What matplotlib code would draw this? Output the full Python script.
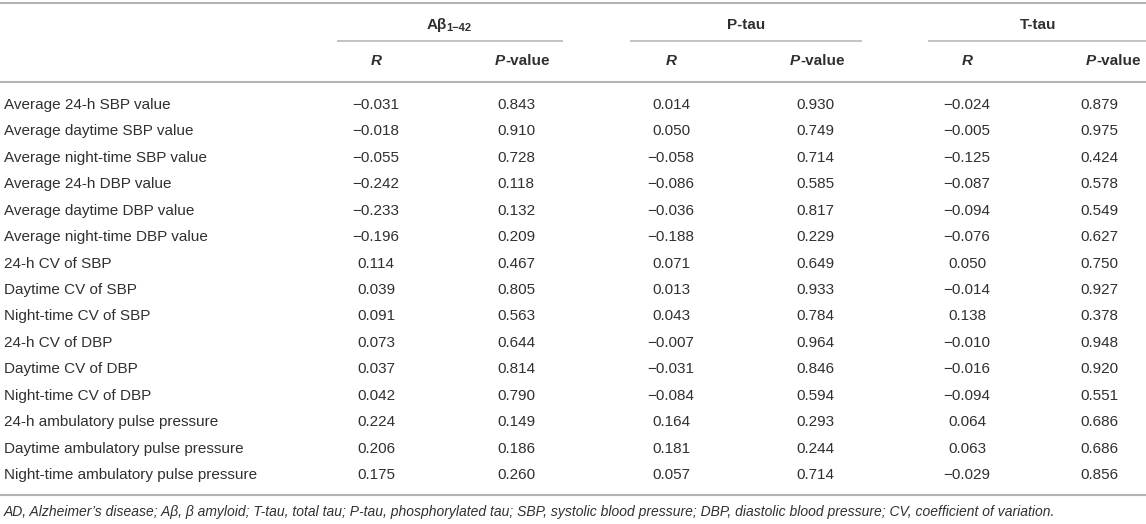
import matplotlib
matplotlib.use("Agg")
import matplotlib.pyplot as plt

plt.rcParams['font.family'] = ['Liberation Sans', 'DejaVu Sans']

# --- table data ---
row_labels = [
    "Average 24-h SBP value",
    "Average daytime SBP value",
    "Average night-time SBP value",
    "Average 24-h DBP value",
    "Average daytime DBP value",
    "Average night-time DBP value",
    "24-h CV of SBP",
    "Daytime CV of SBP",
    "Night-time CV of SBP",
    "24-h CV of DBP",
    "Daytime CV of DBP",
    "Night-time CV of DBP",
    "24-h ambulatory pulse pressure",
    "Daytime ambulatory pulse pressure",
    "Night-time ambulatory pulse pressure",
]
ab_r = [-0.031, -0.018, -0.055, -0.242, -0.233, -0.196, 0.114, 0.039, 0.091, 0.073, 0.037, 0.042, 0.224, 0.206, 0.175]
ab_p = [0.843, 0.910, 0.728, 0.118, 0.132, 0.209, 0.467, 0.805, 0.563, 0.644, 0.814, 0.790, 0.149, 0.186, 0.260]
ptau_r = [0.014, 0.050, -0.058, -0.086, -0.036, -0.188, 0.071, 0.013, 0.043, -0.007, -0.031, -0.084, 0.164, 0.181, 0.057]
ptau_p = [0.930, 0.749, 0.714, 0.585, 0.817, 0.229, 0.649, 0.933, 0.784, 0.964, 0.846, 0.594, 0.293, 0.244, 0.714]
ttau_r = [-0.024, -0.005, -0.125, -0.087, -0.094, -0.076, 0.050, -0.014, 0.138, -0.010, -0.016, -0.094, 0.064, 0.063, -0.029]
ttau_p = [0.879, 0.975, 0.424, 0.578, 0.549, 0.627, 0.750, 0.927, 0.378, 0.948, 0.920, 0.551, 0.686, 0.686, 0.856]

groups = ["P-tau", "T-tau"]  # Aβ1-42 drawn on its own because of the subscript
footnote = ("AD, Alzheimer’s disease; Aβ, β amyloid; T-tau, total tau; P-tau, phosphorylated tau; "
            "SBP, systolic blood pressure; DBP, diastolic blood pressure; CV, coefficient of variation.")

def fmt(v):
    return f"{v:.3f}".replace("-", "\u2212")

W, H = 1146, 524
fig = plt.figure(figsize=(W / 100, H / 100), dpi=100)
ax = fig.add_axes([0, 0, 1, 1])
ax.set_xlim(0, W)
ax.set_ylim(H, 0)
ax.axis('off')

txt = '#303030'
line_c = '#b3b3b3'
fs = 11

# column centres in pixels
r_x = [376, 671, 967]
p_x = [522, 817, 1113]
p_val_x = [516, 815, 1099]
grp_x = [450, 746, 1038]
spans = [(337, 563), (630, 862), (928, 1146)]

# rules
for yy in (3, 82, 495):
    ax.axhline(yy, color=line_c, lw=1.5)
for a, b in spans:
    ax.plot([a, b], [41, 41], color=line_c, lw=1.1, solid_capstyle='butt')

# group headers
ax.text(447, 25, "Aβ", ha='right', va='center', fontsize=fs, fontweight='bold', color=txt)
ax.text(446, 28, "1\u221242", ha='left', va='center', fontsize=8, fontweight='bold', color=txt)
for g, x in zip(groups, grp_x[1:]):
    ax.text(x, 25, g, ha='center', va='center', fontsize=fs, fontweight='bold', color=txt)

# sub headers
for xr, xp in zip(r_x, p_x):
    ax.text(xr, 61, "R", ha='center', va='center', fontsize=fs, fontweight='bold',
            style='italic', color=txt)
    ax.annotate("P", (xp, 61), ha='right', va='center', fontsize=fs, fontweight='bold',
                style='italic', color=txt, xytext=(-12, 0), textcoords='offset points')
    ax.annotate("-value", (xp, 61), ha='left', va='center', fontsize=fs, fontweight='bold',
                color=txt, xytext=(-12, 0), textcoords='offset points')

# body
cols = [ab_r, ab_p, ptau_r, ptau_p, ttau_r, ttau_p]
col_x = [r_x[0], p_val_x[0], r_x[1], p_val_x[1], r_x[2], p_val_x[2]]
y0, dy = 105, 26.43
for i, lab in enumerate(row_labels):
    y = y0 + i * dy
    ax.text(4, y, lab, ha='left', va='center', fontsize=fs, color=txt)
    for vals, x in zip(cols, col_x):
        ax.text(x, y, fmt(vals[i]), ha='center', va='center', fontsize=fs, color=txt)

ax.text(4, 512, footnote, ha='left', va='center', fontsize=10.0, style='italic', color=txt)

plt.savefig("out.png", dpi=100)
